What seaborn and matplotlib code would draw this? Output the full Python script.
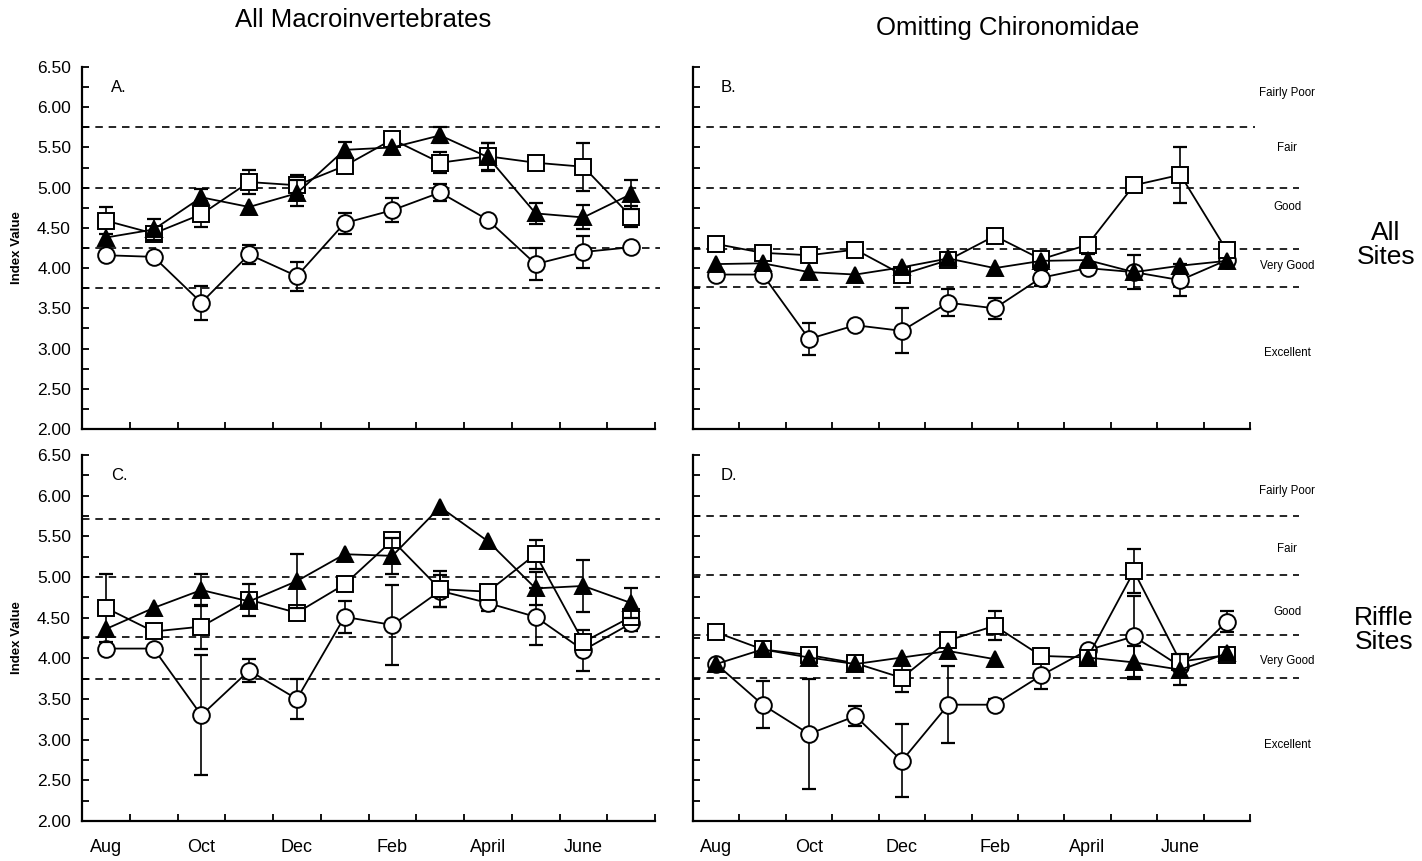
import numpy as np
import pandas as pd
import matplotlib
matplotlib.use("Agg")
import matplotlib.pyplot as plt
import seaborn as sns

sns.set_theme(style="white")
plt.rcParams['font.family'] = ['Liberation Sans', 'DejaVu Sans']
plt.rcParams['xtick.bottom'] = True
plt.rcParams['ytick.left'] = True
plt.rcParams['xtick.direction'] = 'in'
plt.rcParams['ytick.direction'] = 'in'
plt.rcParams['text.color'] = 'black'
plt.rcParams['axes.labelcolor'] = 'black'
plt.rcParams['xtick.color'] = 'black'
plt.rcParams['ytick.color'] = 'black'
plt.rcParams['xtick.labelcolor'] = 'black'
plt.rcParams['ytick.labelcolor'] = 'black'

nan = np.nan
months = ['Aug', 'Sep', 'Oct', 'Nov', 'Dec', 'Jan', 'Feb', 'Mar', 'April', 'May', 'June', 'July']
tick_months = ['Aug', 'Oct', 'Dec', 'Feb', 'April', 'June']

# Panel A: all macroinvertebrates, all sites
a_square = [4.59, 4.43, 4.67, 5.07, 5.03, 5.27, 5.60, 5.31, 5.39, 5.31, 5.26, 4.64]
a_square_err = [0.17, 0.0, 0.16, 0.15, 0.13, 0.0, 0.0, 0.13, 0.17, 0.0, 0.30, 0.13]
a_tri = [4.38, 4.48, 4.88, 4.76, 4.93, 5.47, 5.50, 5.65, 5.38, 4.68, 4.63, 4.92]
a_tri_err = [0.0, 0.13, 0.10, 0.0, 0.16, 0.10, 0.0, 0.10, 0.17, 0.13, 0.15, 0.18]
a_circ = [4.16, 4.14, 3.57, 4.17, 3.90, 4.56, 4.72, 4.94, 4.60, 4.05, 4.20, 4.26]
a_circ_err = [0.0, 0.0, 0.21, 0.12, 0.18, 0.13, 0.15, 0.11, 0.0, 0.20, 0.20, 0.0]

# Panel B: omitting Chironomidae, all sites
b_square = [4.30, 4.19, 4.16, 4.23, 3.92, 4.10, 4.40, 4.11, 4.29, 5.03, 5.16, 4.22]
b_square_err = [0.0, 0.0, 0.0, 0.0, 0.04, 0.0, 0.0, 0.0, 0.04, 0.05, 0.35, 0.0]
b_tri = [4.05, 4.06, 3.95, 3.92, 4.01, 4.12, 4.00, 4.09, 4.10, 3.95, 4.03, 4.09]
b_tri_err = [0.0, 0.0, 0.0, 0.0, 0.0, 0.0, 0.0, 0.0, 0.08, 0.0, 0.0, 0.0]
b_circ = [3.92, 3.92, 3.12, 3.29, 3.22, 3.57, 3.50, 3.88, 4.00, 3.95, 3.85, 4.10]
b_circ_err = [0.0, 0.0, 0.20, 0.0, 0.28, 0.17, 0.13, 0.10, 0.0, 0.21, 0.20, 0.0]

# Panel C: all macroinvertebrates, riffle sites
c_square = [4.62, 4.33, 4.39, 4.72, 4.56, 4.91, 5.45, 4.85, 4.82, 5.28, 4.20, 4.51]
c_square_err = [0.42, 0.0, 0.27, 0.20, 0.0, 0.0, 0.0, 0.22, 0.05, 0.18, 0.05, 0.0]
c_tri = [4.36, 4.62, 4.84, 4.70, 4.95, 5.28, 5.26, 5.86, 5.44, 4.86, 4.89, 4.68]
c_tri_err = [0.0, 0.0, 0.20, 0.0, 0.33, 0.0, 0.22, 0.0, 0.0, 0.20, 0.32, 0.18]
c_circ = [4.12, 4.12, 3.30, 3.85, 3.50, 4.51, 4.41, 4.83, 4.68, 4.51, 4.10, 4.43]
c_circ_err = [0.0, 0.0, 0.74, 0.14, 0.25, 0.20, 0.49, 0.20, 0.10, 0.35, 0.25, 0.10]

# Panel D: omitting Chironomidae, riffle sites
d_square = [4.32, 4.11, 4.04, 3.94, 3.76, 4.22, 4.40, 4.03, 4.01, 5.07, 3.96, 4.04]
d_square_err = [0.05, 0.0, 0.05, 0.0, 0.18, 0.05, 0.18, 0.0, 0.0, 0.27, 0.05, 0.0]
d_tri = [3.93, 4.11, 4.01, 3.93, 4.01, 4.09, 3.99, nan, 4.01, 3.95, 3.86, 4.06]
d_tri_err = [0.0, 0.0, 0.0, 0.0, 0.0, 0.0, 0.0, 0.0, 0.0, 0.20, 0.19, 0.0]
d_circ = [3.93, 3.43, 3.07, 3.29, 2.74, 3.43, 3.43, 3.79, 4.10, 4.27, 3.90, 4.45]
d_circ_err = [0.0, 0.29, 0.68, 0.12, 0.45, 0.47, 0.07, 0.17, 0.0, 0.50, 0.0, 0.13]

# Threshold lines (index value) per panel
a_thresh = [5.75, 5.00, 4.25, 3.75]
b_thresh = [5.75, 5.00, 4.24, 3.77]
c_thresh = [5.71, 5.00, 4.26, 3.75]
d_thresh = [5.75, 5.03, 4.29, 3.76]

class_names = ['Fairly Poor', 'Fair', 'Good', 'Very Good', 'Excellent']
b_class_y = [6.18, 5.49, 4.76, 4.03, 2.94]
d_class_y = [6.06, 5.35, 4.57, 3.97, 2.94]

W, H = 1422, 861
fig = plt.figure(figsize=(W / 100, H / 100), dpi=100)


def px_axes(left, right, top, bottom):
    return fig.add_axes([left / W, 1 - bottom / H, (right - left) / W, (bottom - top) / H])


axA = px_axes(82, 655, 67, 429)
axB = px_axes(693, 1250, 67, 429)
axC = px_axes(82, 655, 455, 821)
axD = px_axes(693, 1250, 455, 821)

xpos = np.arange(12) + 0.5

styles = [
    ('circ', dict(marker='o', markersize=12, markerfacecolor='white'), 3),
    ('square', dict(marker='s', markersize=11, markerfacecolor='white'), 4),
    ('tri', dict(marker='^', markersize=12, markerfacecolor='black'), 5),
]


def draw_series(ax, vals, errs, mstyle, z):
    vals = np.asarray(vals, dtype=float)
    errs = np.asarray(errs, dtype=float)
    m = (errs > 0) & ~np.isnan(vals)
    ax.errorbar(xpos[m], vals[m], yerr=errs[m], fmt='none', ecolor='black',
                elinewidth=1.2, capsize=5, capthick=1.6, zorder=z - 0.5)
    ok = ~np.isnan(vals)
    runs = []
    cur = []
    for i in range(12):
        if ok[i]:
            cur.append(i)
        else:
            if cur:
                runs.append(cur)
            cur = []
    if cur:
        runs.append(cur)
    for r in runs:
        df = pd.DataFrame({'x': xpos[r], 'y': vals[r]})
        sns.lineplot(data=df, x='x', y='y', ax=ax, color='black', linewidth=1.3,
                     markeredgecolor='black', markeredgewidth=1.4, zorder=z,
                     estimator=None, sort=False, legend=False, **mstyle)


def setup(ax, thresh, show_ylab, show_xlab, ext=None):
    ax.set_xlim(0, 12)
    ax.set_ylim(2, 6.5)
    for s in ['top', 'right']:
        ax.spines[s].set_visible(False)
    for s in ['left', 'bottom']:
        ax.spines[s].set_color('black')
        ax.spines[s].set_linewidth(1.6)
    ax.set_xticks(xpos[::2])
    ax.set_xticklabels(tick_months if show_xlab else [''] * 6, fontsize=13)
    ax.set_xticks(np.arange(1, 13), minor=True)
    ax.tick_params(axis='x', which='major', length=0, pad=13)
    ax.tick_params(axis='x', which='minor', direction='in', length=5, width=1.3,
                   color='black', bottom=True)
    ax.set_yticks(np.arange(2, 6.51, 0.5))
    ax.set_yticks(np.arange(2, 6.5, 0.25), minor=True)
    ax.tick_params(axis='y', which='both', direction='in', length=5, width=1.3, color='black',
                   labelsize=12.5, pad=8, left=True)
    if show_ylab:
        ax.set_yticklabels(['%.2f' % v for v in np.arange(2, 6.51, 0.5)])
        ax.set_ylabel('Index Value', fontsize=9.5, fontweight='bold', labelpad=10)
    else:
        ax.set_yticklabels([])
        ax.set_ylabel('')
    ax.set_xlabel('')
    ax.grid(False)
    for i, t in enumerate(thresh):
        xe = 12.1
        if ext is not None and ext[i]:
            xe = 13.05
        ax.plot([0, xe], [t, t], color='black', lw=1.2, ls=(0, (4.5, 3.5)),
                clip_on=False, zorder=1)


panels = [
    (axA, a_thresh, True, False, None,
     [(a_circ, a_circ_err), (a_square, a_square_err), (a_tri, a_tri_err)], 'A.'),
    (axB, b_thresh, False, False, [False, True, True, True],
     [(b_circ, b_circ_err), (b_square, b_square_err), (b_tri, b_tri_err)], 'B.'),
    (axC, c_thresh, True, True, None,
     [(c_circ, c_circ_err), (c_square, c_square_err), (c_tri, c_tri_err)], 'C.'),
    (axD, d_thresh, False, True, [True, True, True, True],
     [(d_circ, d_circ_err), (d_square, d_square_err), (d_tri, d_tri_err)], 'D.'),
]

for ax, thr, ylab, xlab, ext, series, letter in panels:
    for (vals, errs), (name, mst, z) in zip(series, styles):
        draw_series(ax, vals, errs, mst, z)
    setup(ax, thr, ylab, xlab, ext)
    ax.text(0.6, 6.25, letter, fontsize=12, ha='left', va='center', color='black')

for ax, ys in [(axB, b_class_y), (axD, d_class_y)]:
    for name, yv in zip(class_names, ys):
        ax.text(12.8, yv, name, fontsize=8.3, ha='center', va='center', clip_on=False,
                color='black')

fig.text(363 / W, 1 - 20 / H, 'All Macroinvertebrates', fontsize=18.5, ha='center', va='center')
fig.text(1008 / W, 1 - 28 / H, 'Omitting Chironomidae', fontsize=18.5, ha='center', va='center')
fig.text(1386 / W, 1 - 245 / H, 'All\nSites', fontsize=19, ha='center', va='center', linespacing=1.05)
fig.text(1384 / W, 1 - 630 / H, 'Riffle\nSites', fontsize=19, ha='center', va='center', linespacing=1.05)

fig.savefig('out.png', dpi=100)
